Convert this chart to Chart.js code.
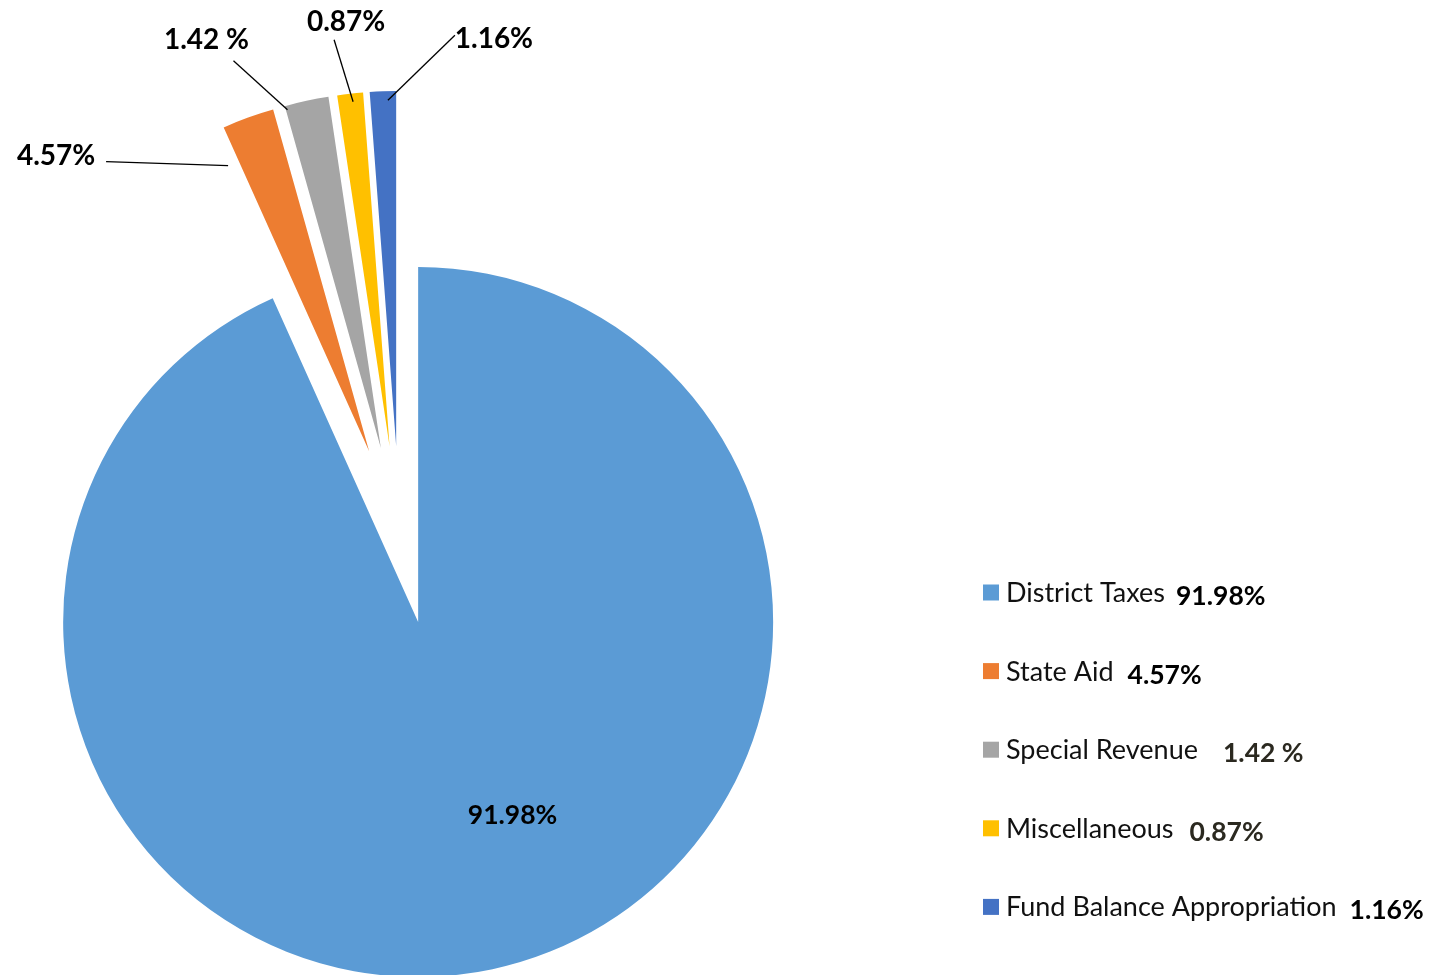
<!DOCTYPE html>
<html>
<head>
<meta charset="utf-8">
<title>Revenue Sources</title>
<script src="https://cdn.jsdelivr.net/npm/chart.js@4.4.1/dist/chart.umd.min.js"></script>
<style>
  html, body { margin: 0; padding: 0; background: #ffffff; }
  .chart-wrap { position: relative; width: 1437px; height: 975px; }
</style>
</head>
<body>
<div class="chart-wrap"><canvas id="revenueChart"></canvas></div>
<script>
// Revenue sources
const sourceNames = ['District Taxes', 'State Aid', 'Special Revenue', 'Miscellaneous', 'Fund Balance Appropriation'];
const sliceShares = [93.3, 2.36, 2.0, 1.17, 1.19];
// percentages as printed on the chart and in the legend
const printedPct = ['91.98%', '4.57%', '1.42 %', '0.87%', '1.16%'];
const sliceColors = ['#5B9BD5', '#ED7D31', '#A5A5A5', '#FFC000', '#4472C4'];

// label layout, relative to the outer middle point of each exploded slice
const labelAt = [[20, -154], [-192, 38], [-100, -61], [-4, -72], [111, -52]];
const leaderFrom = [null, [-142, 44], [-73, -40], [-16, -54], [72, -56]];
const leaderTo = [null, [-20, 48], [-19, 9], [3, 8], [5, 9]];

// legend: gap between name and bold percentage, colour of that percentage
const legendGap = [11, 14, 25, 16, 13];
const legendPctColor = ['#000000', '#000000', '#2B2920', '#2B2920', '#000000'];

const EXPLODE = 89; // every slice is pulled out by this many px

function explodeShift(arc) {
    const mid = (arc.startAngle + arc.endAngle) / 2;
    return { dx: Math.cos(mid) * EXPLODE, dy: Math.sin(mid) * EXPLODE, mid: mid };
}

// **Exploded pie: draw each arc moved out along its own bisector**
const explodedPie = {
    id: 'explodedPie',
    beforeDatasetDraw(chart, args) {
        const ctx = chart.ctx;
        args.meta.data.forEach(arc => {
            const s = explodeShift(arc);
            ctx.save();
            ctx.translate(s.dx, s.dy);
            arc.draw(ctx);
            ctx.restore();
        });
        return false;
    }
};

// **Percent labels with leader lines**
const calloutLabels = {
    id: 'calloutLabels',
    afterDatasetsDraw(chart) {
        const ctx = chart.ctx;
        const arcs = chart.getDatasetMeta(0).data;
        ctx.save();
        arcs.forEach((arc, i) => {
            const s = explodeShift(arc);
            const ax = arc.x + s.dx + Math.cos(s.mid) * arc.outerRadius;
            const ay = arc.y + s.dy + Math.sin(s.mid) * arc.outerRadius;

            if (leaderFrom[i]) {
                ctx.beginPath();
                ctx.strokeStyle = '#000000';
                ctx.lineWidth = 1.3;
                ctx.moveTo(ax + leaderFrom[i][0], ay + leaderFrom[i][1]);
                ctx.lineTo(ax + leaderTo[i][0], ay + leaderTo[i][1]);
                ctx.stroke();
            }

            ctx.font = i === 0 ? 'bold 26.5px Lato' : 'bold 28px Lato';
            ctx.fillStyle = '#000000';
            ctx.textAlign = 'center';
            ctx.textBaseline = 'middle';
            ctx.fillText(printedPct[i], ax + labelAt[i][0], ay + labelAt[i][1]);
        });
        ctx.restore();
    }
};

// **Legend on the right, name plus bold percentage**
const sideLegend = {
    id: 'sideLegend',
    afterDraw(chart) {
        const ctx = chart.ctx;
        const boxX = 983, firstRow = 592.5, rowStep = 78.6, box = 16;
        ctx.save();
        ctx.textAlign = 'left';
        ctx.textBaseline = 'alphabetic';
        sourceNames.forEach((name, i) => {
            const cy = firstRow + i * rowStep;
            ctx.fillStyle = sliceColors[i];
            ctx.fillRect(boxX, cy - box / 2, box, box);

            ctx.font = '27px Lato';
            ctx.fillStyle = '#111111';
            const tx = boxX + 23;
            ctx.fillText(name, tx, cy + 9.5);
            const nameEnd = tx + ctx.measureText(name).width;

            ctx.font = 'bold 26.5px Lato';
            ctx.fillStyle = legendPctColor[i];
            ctx.fillText(printedPct[i], nameEnd + legendGap[i], cy + 12.5);
        });
        ctx.restore();
    }
};

document.addEventListener('DOMContentLoaded', function () {
    new Chart(document.getElementById('revenueChart'), {
        type: 'pie',
        data: {
            labels: sourceNames,
            datasets: [{
                data: sliceShares,
                backgroundColor: sliceColors,
                borderWidth: 0
            }]
        },
        options: {
            responsive: true,
            maintainAspectRatio: false,
            animation: false,
            radius: 355,
            layout: { padding: { left: 0, right: 638, top: 95, bottom: 0 } },
            plugins: {
                legend: { display: false },
                tooltip: { enabled: false }
            }
        },
        plugins: [explodedPie, calloutLabels, sideLegend]
    });
});
</script>
</body>
</html>
